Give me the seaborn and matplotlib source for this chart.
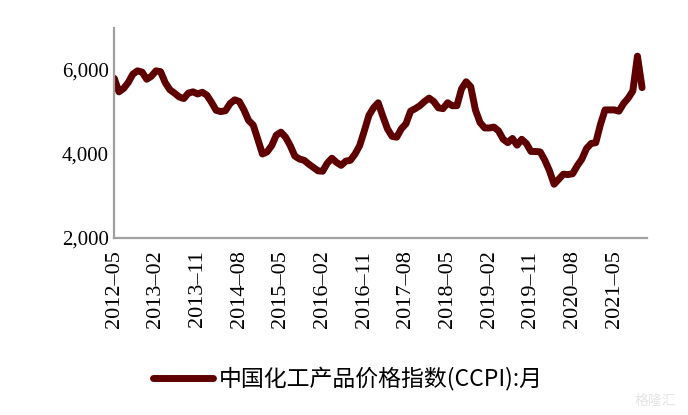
import numpy as np
import pandas as pd
import matplotlib
matplotlib.use("Agg")
import matplotlib.pyplot as plt
import seaborn as sns

# ---- data ----
months = pd.date_range("2012-05-01", periods=115, freq="MS").strftime("%Y-%m").tolist()
ccpi = [
    5800, 5480, 5560, 5700, 5900, 5980, 5950, 5780, 5850, 5980,
    5960, 5700, 5530, 5450, 5360, 5320, 5450, 5480, 5430, 5470,
    5400, 5230, 5040, 5010, 5030, 5200, 5290, 5250, 5050, 4800,
    4690, 4350, 4000, 4050, 4200, 4450, 4520, 4400, 4200, 3950,
    3880, 3850, 3760, 3680, 3600, 3590, 3780, 3900, 3800, 3730,
    3830, 3850, 4000, 4200, 4550, 4920, 5100, 5220, 4900, 4600,
    4420, 4400, 4600, 4720, 5020, 5080, 5150, 5250, 5330, 5250,
    5100, 5080, 5220, 5150, 5150, 5550, 5720, 5600, 5050, 4750,
    4620, 4620, 4640, 4550, 4350, 4270, 4370, 4210, 4350, 4250,
    4060, 4060, 4050, 3850, 3600, 3280, 3400, 3520, 3510, 3530,
    3720, 3880, 4130, 4250, 4270, 4700, 5050, 5050, 5050, 5020,
    5200, 5330, 5500, 6330, 5580,
]
tick_labels = ["2012-05", "2013-02", "2013-11", "2014-08", "2015-05", "2016-02",
               "2016-11", "2017-08", "2018-05", "2019-02", "2019-11", "2020-08",
               "2021-05"]
y_ticks = [2000, 4000, 6000]
series_name = "中国化工产品价格指数(CCPI):月"

df = pd.DataFrame({"idx": np.arange(len(months)), "value": ccpi, "series": series_name})

sns.set_style("white")
plt.rcParams["font.family"] = ["Noto Sans CJK SC", "DejaVu Sans"]

W, H = 688, 415
fig = plt.figure(figsize=(W / 100, H / 100), dpi=100)
x0, x1, ytop, ybot = 114.3, 646.7, 28, 238
ax = fig.add_axes([x0 / W, 1 - ybot / H, (x1 - x0) / W, (ybot - ytop) / H])

line_color = "#5e0000"
sns.lineplot(data=df, x="idx", y="value", hue="series", palette=[line_color],
             linewidth=5, ax=ax, legend=True)

ax.set_xlim(0, len(months))
ax.set_ylim(2000, 7000)
ax.set_xlabel("")
ax.set_ylabel("")

serif = ["Liberation Serif", "DejaVu Serif"]
ax.set_yticks(y_ticks)
ax.set_yticklabels([f"{v:,}" for v in y_ticks], family=serif, fontsize=15)
ax.set_xticks([months.index(t) for t in tick_labels])
ax.set_xticklabels([t.replace("-", "\u2013") for t in tick_labels], rotation=90,
                   family=serif, fontsize=16, va="top", ha="center")

for s in ["top", "right"]:
    ax.spines[s].set_visible(False)
for s in ["left", "bottom"]:
    ax.spines[s].set_color("#a0a0a0")
    ax.spines[s].set_linewidth(1.6)
ax.tick_params(axis="x", direction="out", length=7, width=1.6, color="#a0a0a0",
               pad=2, labelcolor="black")
ax.tick_params(axis="y", length=0, pad=4, labelcolor="black")
ax.grid(False)

leg = ax.legend(loc="center", bbox_to_anchor=(348 / W, 1 - 379 / H),
                bbox_transform=fig.transFigure, frameon=False, fontsize=16.5,
                handlelength=2.6, handletextpad=0.28)
for t in leg.get_texts():
    t.set_color("black")
for h in leg.get_lines():
    h.set_solid_capstyle("round")

fig.text(676 / W, 1 - 401 / H, "格隆汇", color="#e4e4e4", fontsize=10,
         ha="right", va="center")

fig.savefig("out.png", dpi=100)
